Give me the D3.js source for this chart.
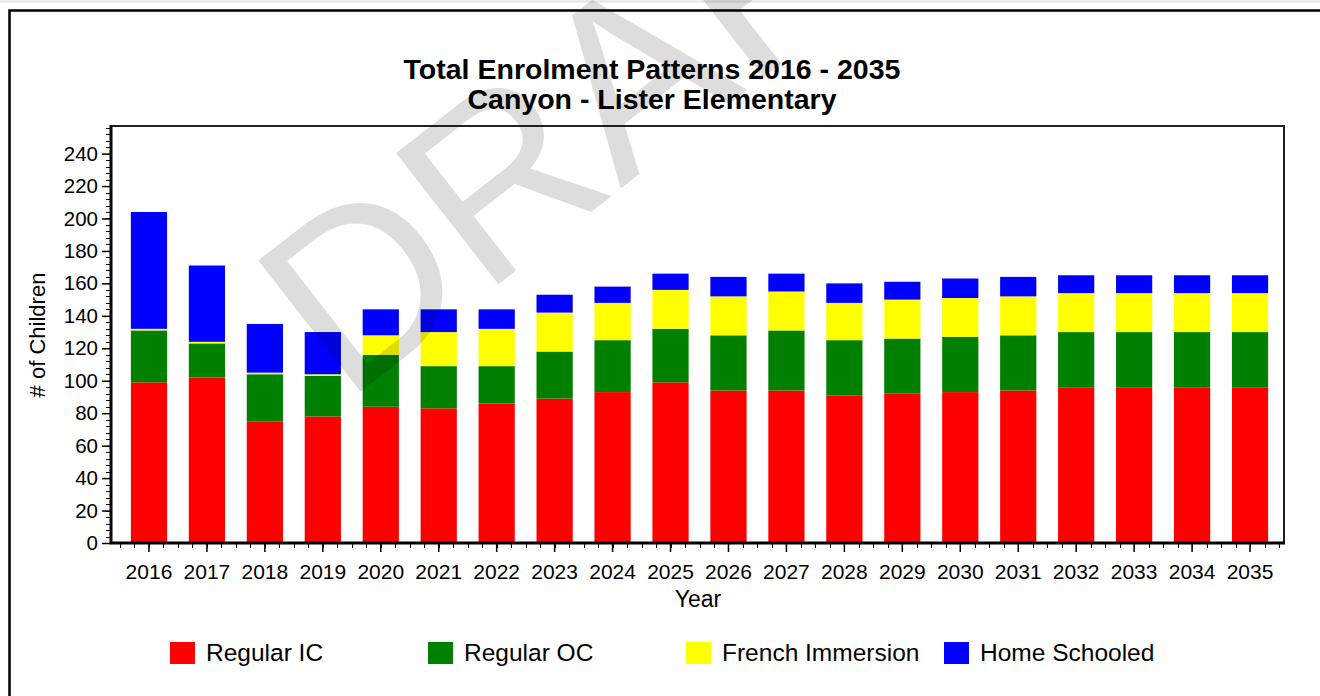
<!DOCTYPE html>
<html>
<head>
<meta charset="utf-8">
<script src="https://cdn.jsdelivr.net/npm/d3@7"></script>
<style>
  html, body { margin: 0; padding: 0; background: #fff; }
  svg { display: block; font-family: Arial, "Liberation Sans", sans-serif; }
</style>
</head>
<body>
<svg id="chart" width="1320" height="696"></svg>
<script>
const years = ["2016","2017","2018","2019","2020","2021","2022","2023","2024","2025","2026","2027","2028","2029","2030","2031","2032","2033","2034","2035"];
const regularIC    = [99,102,75,78,84,83,86,89,93,99,94,94,91,92,93,94,96,96,96,96];
const regularOC    = [32,21,29,25,32,26,23,29,32,33,34,37,34,34,34,34,34,34,34,34];
const frenchImm    = [1,1,1,1,12,21,23,24,23,24,24,24,23,24,24,24,24,24,24,24];
const homeSchooled = [72,47,30,26,16,14,12,11,10,10,12,11,12,11,12,12,11,11,11,11];
const seriesNames  = ["Regular IC","Regular OC","French Immersion","Home Schooled"];
const seriesColors = ["#ff0000","#008000","#ffff00","#0000ff"];
const yTicks = [0,20,40,60,80,100,120,140,160,180,200,220,240];
const titleLines = ["Total Enrolment Patterns 2016 - 2035","Canyon - Lister Elementary"];

const svg = d3.select("#chart");
const FONT = "Arial, 'Liberation Sans', sans-serif";

// page frame
svg.append("line").attr("x1",0).attr("x2",1320).attr("y1",1.5).attr("y2",1.5).attr("stroke","#e4e4e4").attr("stroke-width",2);
svg.append("path").attr("d","M9.5,700 L9.5,10.5 L1325,10.5").attr("fill","none").attr("stroke","#000").attr("stroke-width",2.5);

const plotL = 111, plotR = 1284, plotT = 126, plotB = 543;

const x = d3.scaleBand().domain(years).range([120, 1279]).paddingInner(0.375).paddingOuter(0.1875);
const y = d3.scaleLinear().domain([0, 257]).range([plotB, plotT]);

const table = years.map((yr,i) => ({year: yr, "Regular IC": regularIC[i], "Regular OC": regularOC[i], "French Immersion": frenchImm[i], "Home Schooled": homeSchooled[i]}));
const stack = d3.stack().keys(seriesNames)(table);
const color = d3.scaleOrdinal().domain(seriesNames).range(seriesColors);

// bars
svg.append("g").selectAll("g").data(stack).join("g")
  .attr("fill", d => color(d.key))
  .selectAll("rect").data(d => d).join("rect")
  .attr("x", d => x(d.data.year))
  .attr("width", x.bandwidth())
  .attr("y", d => y(d[1]))
  .attr("height", d => y(d[0]) - y(d[1]));

// plot frame top/right
svg.append("path").attr("d",`M${plotL},${plotT} L${plotR},${plotT} L${plotR},${plotB}`)
  .attr("fill","none").attr("stroke","#222").attr("stroke-width",2);

// y axis minor ticks
const yMinor = d3.range(0, 257, 4);
svg.append("g").selectAll("line").data(yMinor).join("line")
  .attr("x1", plotL-5).attr("x2", plotL)
  .attr("y1", d => Math.round(y(d))+0.5).attr("y2", d => Math.round(y(d))+0.5)
  .attr("stroke","#000").attr("stroke-width",1);

// y axis
const yAxis = d3.axisLeft(y).tickValues(yTicks).tickSize(9).tickPadding(4);
const gy = svg.append("g").attr("transform",`translate(${plotL},0)`).call(yAxis);
gy.select(".domain").remove();
gy.selectAll(".tick line").attr("stroke","#000").attr("stroke-width",1.5);
gy.selectAll(".tick text").attr("font-size",20.5).attr("fill","#000").attr("font-family",FONT);

// x axis minor ticks (quarter bands)
const step = x.step();
const xMinor = d3.range(0, years.length*4+1).map(k => 120 + k*step/4);
svg.append("g").selectAll("line").data(xMinor).join("line")
  .attr("x1", d => Math.round(d)+0.5).attr("x2", d => Math.round(d)+0.5)
  .attr("y1", plotB).attr("y2", plotB+5)
  .attr("stroke","#000").attr("stroke-width",1);

const xAxis = d3.axisBottom(x).tickSize(9).tickPadding(12);
const gx = svg.append("g").attr("transform",`translate(0,${plotB})`).call(xAxis);
gx.select(".domain").remove();
gx.selectAll(".tick line").attr("stroke","#000").attr("stroke-width",1.5);
gx.selectAll(".tick text").attr("font-size",21).attr("fill","#000").attr("font-family",FONT);

// left and bottom axis lines (thick)
svg.append("path").attr("d",`M${plotL},${plotT-1} L${plotL},${plotB} L${plotR+1},${plotB}`)
  .attr("fill","none").attr("stroke","#000").attr("stroke-width",3);

// axis titles
svg.append("text").attr("transform","translate(45,335) rotate(-90)").attr("text-anchor","middle")
  .attr("font-size",22).attr("fill","#000").text("# of Children");
svg.append("text").attr("x",698).attr("y",607).attr("text-anchor","middle")
  .attr("font-size",23).attr("fill","#000").text("Year");

// legend
const legend = svg.append("g").selectAll("g").data(seriesNames).join("g")
  .attr("transform",(d,i) => `translate(${170 + i*258},642)`);
legend.append("rect").attr("width",25).attr("height",22).attr("fill", d => color(d));
legend.append("text").attr("x",36).attr("y",19).attr("font-size",24.5).attr("fill","#000").text(d => d);

// titles
svg.append("text").attr("x",652).attr("y",79).attr("text-anchor","middle")
  .attr("font-size",28.5).attr("font-weight","bold").attr("fill","#000").text(titleLines[0]);
svg.append("text").attr("x",652).attr("y",109).attr("text-anchor","middle")
  .attr("font-size",28.5).attr("font-weight","bold").attr("fill","#000").text(titleLines[1]);

// DRAFT watermark
svg.append("text").attr("transform","translate(345,404) rotate(-38)")
  .attr("font-size",242).attr("fill","#000").attr("fill-opacity",0.135)
  .attr("font-family",FONT)
  .text("DRAFT");
</script>
</body>
</html>
